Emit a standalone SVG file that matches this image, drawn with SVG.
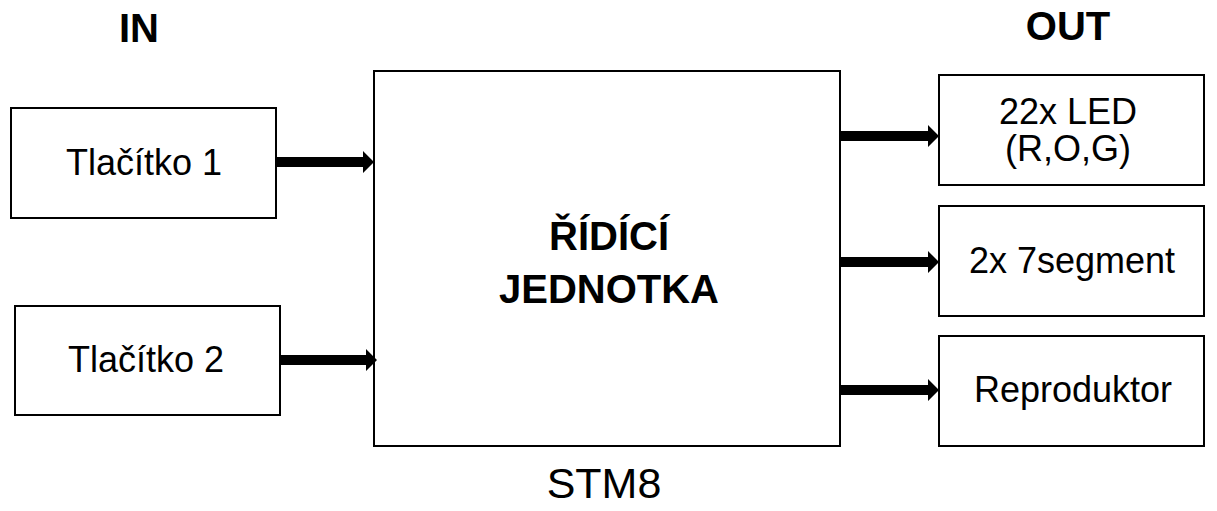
<svg xmlns="http://www.w3.org/2000/svg" width="1217" height="511" viewBox="0 0 1217 511">
  <style>
    .box { fill: #ffffff; stroke: #000000; stroke-width: 2; }
    .lbl { font-family: "Liberation Sans", Arial, sans-serif; font-size: 36px; fill: #000000; text-anchor: middle; }
    .hdr { font-family: "Liberation Sans", Arial, sans-serif; font-size: 40px; font-weight: bold; fill: #000000; text-anchor: middle; }
    .arrow { fill: #000000; stroke: none; }
  </style>
  <rect x="0" y="0" width="1217" height="511" fill="#ffffff"/>

  <text class="hdr" x="139" y="42">IN</text>
  <text class="hdr" x="1068" y="40">OUT</text>

  <g id="btn1">
    <rect class="box" x="11" y="108" width="265" height="110"/>
    <text class="lbl" x="144" y="175">Tlačítko 1</text>
  </g>
  <g id="btn2">
    <rect class="box" x="15" y="306" width="265" height="109"/>
    <text class="lbl" x="146" y="372">Tlačítko 2</text>
  </g>
  <g id="mcu">
    <rect class="box" x="374" y="71" width="466" height="375"/>
    <text class="hdr" x="609" y="250">ŘÍDÍCÍ</text>
    <text class="hdr" x="609" y="303">JEDNOTKA</text>
    <text class="lbl" x="604" y="498" style="font-size:43px">STM8</text>
  </g>
  <g id="led">
    <rect class="box" x="939" y="75" width="265" height="110"/>
    <text class="lbl" x="1068" y="124">22x LED</text>
    <text class="lbl" x="1068" y="161">(R,O,G)</text>
  </g>
  <g id="seg">
    <rect class="box" x="939" y="206" width="265" height="110"/>
    <text class="lbl" x="1072" y="273">2x 7segment</text>
  </g>
  <g id="speaker">
    <rect class="box" x="939" y="336" width="265" height="110"/>
    <text class="lbl" x="1073" y="402">Reproduktor</text>
  </g>

  <g id="connectors">
    <path class="arrow" d="M277,157 H363 V151 L374,162 L363,173 V167 H277 Z"/>
    <path class="arrow" d="M281,355 H366 V349 L377,360 L366,371 V365 H281 Z"/>
    <path class="arrow" d="M841,131 H928 V125 L939,136 L928,147 V141 H841 Z"/>
    <path class="arrow" d="M841,257 H928 V251 L939,262 L928,273 V267 H841 Z"/>
    <path class="arrow" d="M841,385 H928 V379 L939,390 L928,401 V395 H841 Z"/>
  </g>
</svg>
